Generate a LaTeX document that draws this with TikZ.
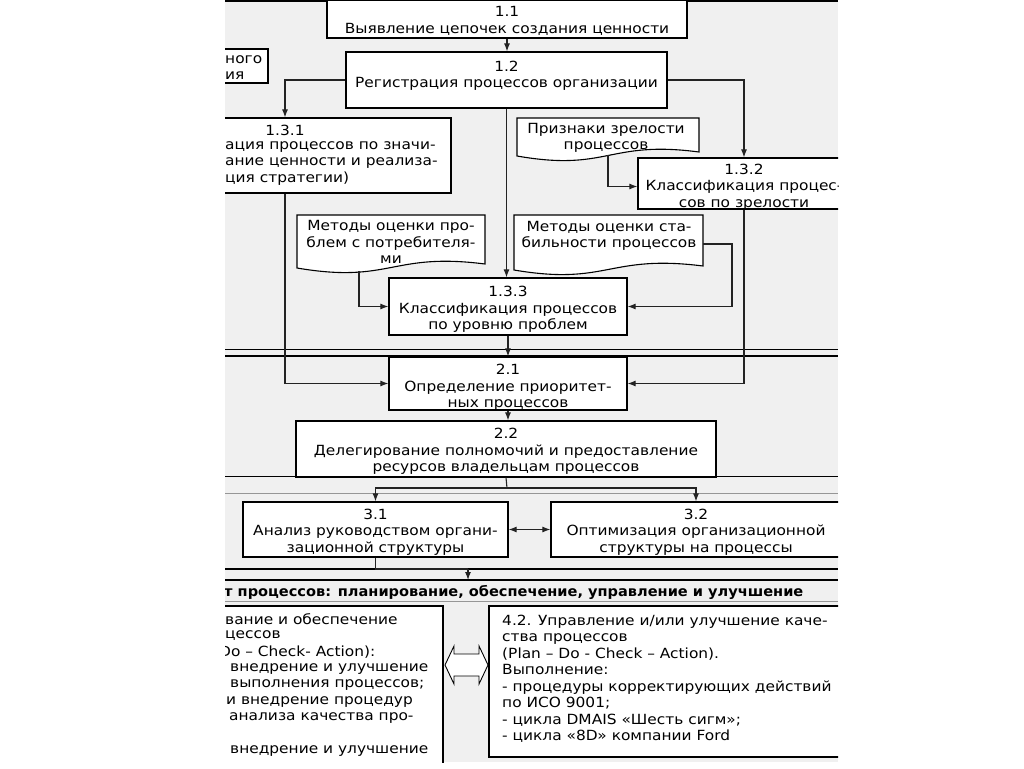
\documentclass[tikz,border=0pt]{standalone}
\usepackage{fontspec}
\setmainfont[FakeStretch=1.1]{DejaVu Sans}
\newfontfamily\hdrfont[FakeStretch=1.04]{DejaVu Sans}
\usetikzlibrary{arrows.meta,calc}
\newcommand\fsz{\fontsize{14}{16.5}\selectfont}
\definecolor{bggray}{RGB}{240,240,240}
\definecolor{lanegray}{RGB}{150,150,150}
\definecolor{conngray}{RGB}{35,35,35}
\tikzset{
  box/.style={draw=black, line width=1.2pt, fill=white, inner sep=0pt},
  txt/.style={inner sep=0pt, anchor=west, font=\fsz},
  ctxt/.style={inner sep=0pt, align=center, font=\fsz},
  docst/.style={draw=black, line width=1.1pt, fill=white},
  conn/.style={draw=conngray, line width=1.1pt},
  arr/.style={conn, -{Latex[length=8pt,width=6pt]}},
  darr/.style={conn, {Latex[length=8pt,width=6pt]}-{Latex[length=8pt,width=6pt]}},
  lane/.style={draw=black, line width=1.8pt},
  thinlane/.style={draw=black, line width=1pt},
  graylane/.style={draw=lanegray, line width=1pt}
}
\begin{document}
\begin{tikzpicture}[x=1pt,y=-1pt]
\useasboundingbox (0,0) rectangle (1024,768);
\fill[white] (0,0) rectangle (1024,768);
\begin{scope}
\clip (225,0) rectangle (838,762);
\fill[bggray] (225,0) rectangle (838,762);
% lanes
\draw[lane] (225,1) -- (838,1);
\draw[thinlane] (225,349) -- (838,349);
\draw[lane] (225,356) -- (838,356);
\draw[lane] (225,476.5) -- (838,476.5);
\draw[graylane] (225,493) -- (838,493);
\draw[lane] (225,569) -- (838,569);
\draw[lane] (225,580) -- (838,580);
\draw[graylane] (225,601) -- (838,601);
% helper coordinates
\coordinate (d1bot) at (608,155);
\coordinate (d2bot) at (359,271);
\coordinate (d3r) at (703,244);
\coordinate (k3) at (732,244);
\coordinate (split) at (507,488);
\coordinate (m4) at (468,569);
\coordinate (h4) at (468,580);
% boxes
\node[box, minimum width=360, minimum height=38] (b11) at (507,19) {};
\node[ctxt] (b11t) at ($(b11.center)+(0,2)$) {1.1\\Выявление цепочек создания ценности};
\node[box, minimum width=321, minimum height=56] (b12) at (506.5,80) {};
\node[ctxt] (b12t) at ($(b12.center)+(0,-4)$) {1.2\\Регистрация процессов организации};
\node[box, minimum width=88, minimum height=34] (pl) at (224,66) {};
\node[txt] (plt1) at (225,60) {ного};
\node[txt] (plt2) at (225,76) {ия};
\node[box, minimum width=332, minimum height=75] (b131) at (285,155.5) {};
\node[ctxt] (b131n) at (285,130) {1.3.1};
\node[txt] (b131a) at (225,147) {ация процессов по значи-};
\node[txt] (b131b) at (225,163) {ание ценности и реализа-};
\node[txt] (b131c) at (225,179) {ция стратегии)};
% documents
\draw[docst] (517,156) -- (517,118) -- (699,118) -- (699,152) .. controls (608,140) and (608,172) .. (517,156) -- cycle;
\node[ctxt] (doc1) at (606,138) {Признаки зрелости\\процессов};
\draw[docst] (297,268) -- (297,215) -- (485,215) -- (485,264) .. controls (391,252) and (391,284) .. (297,268) -- cycle;
\node[ctxt] (doc2) at (391,242) {Методы оценки про-\\блем с потребителя-\\ми};
\draw[docst] (514,270) -- (514,215) -- (703,215) -- (703,266) .. controls (608,254) and (608,286) .. (514,270) -- cycle;
\node[ctxt] (doc3) at (609,236) {Методы оценки ста-\\бильности процессов};
\node[box, minimum width=212, minimum height=51] (b132) at (744,183.5) {};
\node[ctxt] (b132t) at ($(b132.center)+(0,3.5)$) {1.3.2\\Классификация процес-\\сов по зрелости};
\node[box, minimum width=238, minimum height=57] (b133) at (508,306.5) {};
\node[ctxt] (b133t) at ($(b133.center)+(0,3)$) {1.3.3\\Классификация процессов\\по уровню проблем};
\node[box, minimum width=238, minimum height=53] (b21) at (508,383.5) {};
\node[ctxt] (b21t) at ($(b21.center)+(0,4)$) {2.1\\Определение приоритет-\\ных процессов};
\node[box, minimum width=420, minimum height=56] (b22) at (506,449) {};
\node[ctxt] (b22t) at ($(b22.center)+(0,2.5)$) {2.2\\Делегирование полномочий и предоставление\\ресурсов владельцам процессов};
\node[box, minimum width=265, minimum height=55] (b31) at (375.5,529.5) {};
\node[ctxt] (b31t) at ($(b31.center)+(0,2.5)$) {3.1\\Анализ руководством органи-\\зационной структуры};
\node[box, minimum width=290, minimum height=55] (b32) at (696,529.5) {};
\node[ctxt] (b32t) at ($(b32.center)+(0,2.5)$) {3.2\\Оптимизация организационной\\структуры на процессы};
\node[txt, font=\fsz\hdrfont\bfseries] (hdr) at (224,592) {т процессов: планирование, обеспечение, управление и улучшение};
\node[box, minimum width=343, minimum height=194] (b41) at (271.5,703) {};
\node[txt] (l1) at (225,619) {вание и обеспечение};
\node[txt] (l2) at (225,636) {цессов};
\node[txt] (l3) at (219,652) {Do – Check- Action):};
\node[txt] (l4) at (230,669) {внедрение и улучшение};
\node[txt] (l5) at (230,685) {выполнения процессов;};
\node[txt] (l6) at (226,702) {и внедрение процедур};
\node[txt] (l7) at (229,718) {анализа качества про-};
\node[txt] (l8) at (230,751) {внедрение и улучшение};
\node[box, minimum width=361, minimum height=151] (b42) at (669.5,681.5) {};
\node[txt, anchor=north west, align=left] (b42t) at (502,614.5) {4.2. Управление и/или улучшение каче-\\ства процессов\\(Plan – Do - Check – Action).\\Выполнение:\\- процедуры корректирующих действий\\по ИСО 9001;\\- цикла DMAIS «Шесть сигм»;\\- цикла «8D» компании Ford};
% block double arrow between 4.1 and 4.2
\draw[line width=0.9pt, fill=white] (445,665) -- (454,646) -- (454,654) -- (479,654) -- (479,646) -- (488,665) -- (479,684) -- (479,676) -- (454,676) -- (454,684) -- cycle;
% connectors
\draw[arr] (b11.south) -- (b11.south |- b12.north);
\draw[arr] (b12.west) -| (b131.north);
\draw[arr] (b12.east) -| (b132.north);
\draw[arr] (b12.south) -- (b12.south |- b133.north);
\draw[arr] (b133.south) -- (b133.south |- b21.north);
\draw[arr] (d1bot) |- ($(b132.west)+(0,3)$);
\draw[arr] (b131.south) |- (b21.west);
\draw[arr] (b132.south) |- (b21.east);
\draw[arr] (d2bot) |- (b133.west);
\draw[arr] (d3r) -- (k3) |- (b133.east);
\draw[arr] (b21.south) -- (b21.south |- b22.north);
\draw[conn] (b22.south) -- (split);
\draw[arr] (split) -| (b31.north);
\draw[arr] (split) -| (b32.north);
\draw[darr] (b31.east) -- (b32.west);
\draw[conn] (b31.south) |- (m4);
\draw[arr] (m4) -- (h4);
\end{scope}
\end{tikzpicture}
\end{document}
